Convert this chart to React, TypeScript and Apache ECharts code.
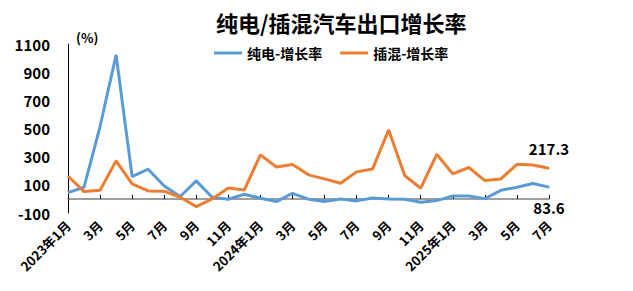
import React, { useEffect, useRef } from "react";
import * as echarts from "echarts";

const months: string[] = [
  "2023年1月", "2月", "3月", "4月", "5月", "6月", "7月", "8月", "9月", "10月", "11月", "12月",
  "2024年1月", "2月", "3月", "4月", "5月", "6月", "7月", "8月", "9月", "10月", "11月", "12月",
  "2025年1月", "2月", "3月", "4月", "5月", "6月", "7月",
];

const bevGrowth: number[] = [
  45, 83, 514, 1023, 159, 211, 92, 17, 128, 10, -2, 33,
  5, -19, 40, -2, -19, 0, -14, 7, 0, -2, -24, -12,
  21, 21, 2, 61, 83, 109, 83.6,
];

const phevGrowth: number[] = [
  163, 52, 62, 270, 107, 57, 55, 12, -55, 0, 78, 64,
  313, 227, 244, 171, 142, 111, 192, 213, 490, 166, 76, 317,
  178, 223, 130, 142, 246, 241, 217.3,
];

const FONT = "'Noto Sans CJK SC', 'Noto Sans', sans-serif";
const BLUE = "#5B9BD5";
const ORANGE = "#ED7D31";

function withLastLabel(values: number[], position: "top" | "bottom") {
  return values.map((v, i) =>
    i === values.length - 1
      ? {
          value: v,
          symbol: "circle",
          symbolSize: 1,
          label: {
            show: true,
            position,
            distance: 12,
            formatter: String(v),
            fontFamily: FONT,
            fontSize: 15,
            fontWeight: "bold",
            color: "#000",
          },
        }
      : { value: v, symbol: "none" }
  );
}

export default function App() {
  const ref = useRef<HTMLDivElement>(null);
  useEffect(() => {
    document.body.style.margin = "0";
    if (!ref.current) return;
    const chart = echarts.init(ref.current, undefined, { renderer: "svg" });
    chart.setOption({
      animation: false,
      backgroundColor: "#fff",
      textStyle: { fontFamily: FONT },
      title: {
        text: "纯电/插混汽车出口增长率",
        left: 211,
        top: 6,
        textStyle: { fontFamily: FONT, fontSize: 22, fontWeight: "bold", color: "#000" },
      },
      legend: {
        left: 209,
        top: 41,
        icon: "rect",
        itemWidth: 28,
        itemHeight: 3,
        itemGap: 18,
        textStyle: { fontFamily: FONT, fontSize: 14, fontWeight: "bold", color: "#000" },
        data: ["纯电-增长率", "插混-增长率"],
      },
      graphic: [
        {
          type: "text",
          left: 76,
          top: 31,
          style: { text: "(%)", fontFamily: FONT, fontSize: 13, fontWeight: "bold", fill: "#000" },
        },
      ],
      grid: { left: 68, right: 84, top: 44, bottom: 78, containLabel: false },
      xAxis: [
        {
          type: "category",
          data: months,
          boundaryGap: false,
          position: "bottom",
          axisLine: { show: false, onZero: false },
          axisTick: { show: false },
          axisLabel: {
            interval: 1,
            rotate: 45,
            margin: 10,
            fontFamily: FONT,
            fontSize: 13,
            fontWeight: "bold",
            color: "#000",
          },
        },
        {
          type: "category",
          data: months,
          boundaryGap: false,
          position: "top",
          axisLine: { show: true, onZero: true, lineStyle: { color: "#808080", width: 1.5 } },
          axisTick: { show: true, interval: 1, length: 4, lineStyle: { color: "#000", width: 1 } },
          axisLabel: { show: false },
        },
      ],
      yAxis: {
        type: "value",
        min: -100,
        max: 1100,
        interval: 200,
        axisLine: { show: true, lineStyle: { color: "#000", width: 1 } },
        axisTick: { show: false },
        splitLine: { show: false },
        axisLabel: {
          margin: 18,
          formatter: (v: number) => String(v),
          fontFamily: FONT,
          fontSize: 15,
          fontWeight: "bold",
          color: "#000",
        },
      },
      series: [
        {
          name: "纯电-增长率",
          type: "line",
          xAxisIndex: 0,
          data: withLastLabel(bevGrowth, "bottom"),
          showSymbol: true,
          lineStyle: { color: BLUE, width: 3 },
          itemStyle: { color: BLUE },
        },
        {
          name: "插混-增长率",
          type: "line",
          xAxisIndex: 0,
          data: withLastLabel(phevGrowth, "top"),
          showSymbol: true,
          lineStyle: { color: ORANGE, width: 3 },
          itemStyle: { color: ORANGE },
        },
      ],
    });
    return () => chart.dispose();
  }, []);
  return <div ref={ref} style={{ width: 633, height: 291 }} />;
}
